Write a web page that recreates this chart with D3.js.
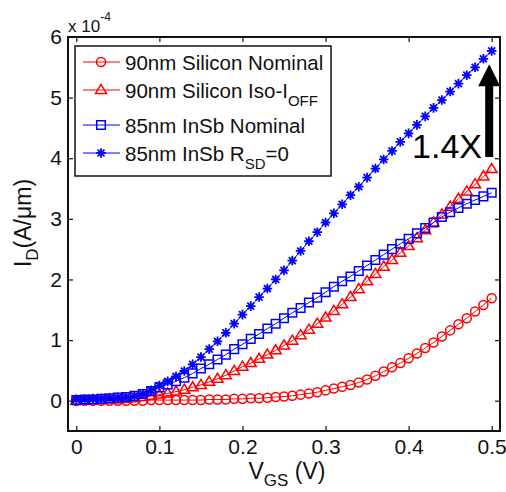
<!DOCTYPE html>
<html>
<head>
<meta charset="utf-8">
<script src="https://cdn.jsdelivr.net/npm/d3@7"></script>
<style>
  html, body { margin: 0; padding: 0; background: #fff; }
  svg { display: block; font-family: Arial, "Liberation Sans", Helvetica, sans-serif; }
</style>
</head>
<body>
<svg id="chart" width="506" height="492"></svg>
<script>
// Gate voltage sweep (V)
const vgs = [0.00,0.01,0.02,0.03,0.04,0.05,0.06,0.07,0.08,0.09,
             0.10,0.11,0.12,0.13,0.14,0.15,0.16,0.17,0.18,0.19,
             0.20,0.21,0.22,0.23,0.24,0.25,0.26,0.27,0.28,0.29,
             0.30,0.31,0.32,0.33,0.34,0.35,0.36,0.37,0.38,0.39,
             0.40,0.41,0.42,0.43,0.44,0.45,0.46,0.47,0.48,0.49,0.50];

// Drain current, in units of 1e-4 A/um
const siNominal = [0.00,0.00,0.00,0.00,0.00,0.00,0.00,0.00,0.00,0.01,
                   0.01,0.01,0.01,0.01,0.01,0.01,0.02,0.02,0.02,0.03,
                   0.03,0.04,0.04,0.05,0.06,0.07,0.08,0.10,0.12,0.14,
                   0.17,0.20,0.23,0.26,0.30,0.35,0.41,0.48,0.55,0.62,
                   0.70,0.78,0.87,0.96,1.06,1.16,1.26,1.36,1.47,1.58,1.69];

const siIsoIoff = [0.00,0.00,0.01,0.01,0.02,0.02,0.03,0.04,0.06,0.08,
                   0.10,0.12,0.15,0.18,0.22,0.26,0.31,0.36,0.42,0.49,
                   0.56,0.62,0.69,0.76,0.83,0.91,0.99,1.08,1.17,1.27,
                   1.37,1.48,1.59,1.71,1.84,1.97,2.09,2.21,2.32,2.44,
                   2.55,2.68,2.81,2.94,3.07,3.20,3.33,3.45,3.57,3.70,3.82];

const insbNominal = [0.01,0.02,0.02,0.03,0.04,0.05,0.06,0.08,0.11,0.16,
                     0.22,0.27,0.32,0.38,0.45,0.53,0.60,0.68,0.76,0.85,
                     0.93,1.02,1.10,1.19,1.27,1.36,1.45,1.53,1.62,1.70,
                     1.79,1.88,1.97,2.05,2.14,2.23,2.32,2.41,2.50,2.59,
                     2.67,2.76,2.85,2.94,3.03,3.11,3.18,3.25,3.31,3.37,3.43];

const insbRsd0 = [0.02,0.02,0.03,0.03,0.04,0.05,0.06,0.08,0.11,0.17,
                  0.25,0.32,0.40,0.49,0.60,0.72,0.85,0.98,1.12,1.27,
                  1.42,1.56,1.71,1.85,2.00,2.15,2.31,2.47,2.63,2.78,
                  2.94,3.09,3.24,3.39,3.53,3.68,3.83,3.98,4.12,4.27,
                  4.41,4.55,4.69,4.83,4.96,5.10,5.23,5.37,5.50,5.64,5.77];

const xTicks = [0, 0.1, 0.2, 0.3, 0.4, 0.5];
const xTickLabels = ["0", "0.1", "0.2", "0.3", "0.4", "0.5"];
const yTicks = [0, 1, 2, 3, 4, 5, 6];
const yTickLabels = ["0", "1", "2", "3", "4", "5", "6"];

// Legend labels, split into normal / subscript runs
const legendLabels = [
  [["90nm Silicon Nominal", false]],
  [["90nm Silicon Iso-I", false], ["OFF", true]],
  [["85nm InSb Nominal", false]],
  [["85nm InSb R", false], ["SD", true], ["=0", false]]
];

const series = [
  { values: siNominal,   color: "#ff0000", marker: "circle" },
  { values: siIsoIoff,   color: "#ff0000", marker: "triangle" },
  { values: insbNominal, color: "#0000ff", marker: "square" },
  { values: insbRsd0,    color: "#0000ff", marker: "star" }
];

const svg = d3.select("#chart");
const plot = { left: 68, top: 37, right: 500, bottom: 431 };

const x = d3.scaleLinear().domain([-0.01, 0.51]).range([plot.left, plot.right]);
const y = d3.scaleLinear().domain([-0.5, 6]).range([plot.bottom, plot.top]);

// Marker shapes
function markerPath(kind) {
  if (kind === "circle") return d3.symbol(d3.symbolCircle, 64)();
  if (kind === "square") return d3.symbol(d3.symbolSquare, 74)();
  if (kind === "triangle") {
    const r = 5.6;
    return `M0,${-r}L${r * 0.98},${r * 0.62}L${-r * 0.98},${r * 0.62}Z`;
  }
  // asterisk: plus overlaid with a cross
  const r = 4.8, d = r * 0.72;
  return `M${-r},0L${r},0M0,${-r}L0,${r}M${-d},${-d}L${d},${d}M${-d},${d}L${d},${-d}`;
}

// Series lines and markers
const line = d3.line().x((d, i) => x(vgs[i])).y(d => y(d));
series.forEach(s => {
  const g = svg.append("g");
  g.append("path")
    .attr("d", line(s.values))
    .attr("fill", "none")
    .attr("stroke", s.color)
    .attr("stroke-width", 1);
  g.selectAll("path.m")
    .data(s.values)
    .join("path")
    .attr("class", "m")
    .attr("transform", (d, i) => `translate(${x(vgs[i])},${y(d)})`)
    .attr("d", markerPath(s.marker))
    .attr("fill", "none")
    .attr("stroke", s.color)
    .attr("stroke-width", s.marker === "star" ? 1.8 : 1.5);
});

// Axes with inward ticks on all four sides
const tickLen = 5;
const axisColor = "#111";
const gx = svg.append("g").attr("transform", `translate(0,${plot.bottom})`)
  .call(d3.axisBottom(x).tickValues(xTicks).tickFormat((d, i) => xTickLabels[i])
    .tickSizeInner(-tickLen).tickSizeOuter(0).tickPadding(8));
const gxTop = svg.append("g").attr("transform", `translate(0,${plot.top})`)
  .call(d3.axisTop(x).tickValues(xTicks).tickFormat("").tickSizeInner(-tickLen).tickSizeOuter(0));
const gy = svg.append("g").attr("transform", `translate(${plot.left},0)`)
  .call(d3.axisLeft(y).tickValues(yTicks).tickFormat((d, i) => yTickLabels[i])
    .tickSizeInner(-tickLen).tickSizeOuter(0).tickPadding(6));
const gyRight = svg.append("g").attr("transform", `translate(${plot.right},0)`)
  .call(d3.axisRight(y).tickValues(yTicks).tickFormat("").tickSizeInner(-tickLen).tickSizeOuter(0));

[gx, gxTop, gy, gyRight].forEach(g => {
  g.select(".domain").remove();
  g.selectAll(".tick line").attr("stroke", axisColor).attr("stroke-width", 1.2);
  g.selectAll(".tick text").attr("fill", "#111").style("font-size", "21px")
    .style("font-family", "Arial, 'Liberation Sans', sans-serif");
});

// Plot frame
svg.append("rect")
  .attr("x", plot.left).attr("y", plot.top)
  .attr("width", plot.right - plot.left).attr("height", plot.bottom - plot.top)
  .attr("fill", "none").attr("stroke", axisColor).attr("stroke-width", 2);

// Exponent label above the y axis
const expo = svg.append("text").attr("x", 68).attr("y", 32)
  .attr("fill", "#111").style("font-size", "17px");
expo.append("tspan").text("x 10");
expo.append("tspan").attr("dy", -11).style("font-size", "12px").text("-4");

// Axis titles
const xt = svg.append("text")
  .attr("x", 287).attr("y", 479)
  .attr("text-anchor", "middle").attr("fill", "#111").style("font-size", "23px");
xt.append("tspan").text("V");
xt.append("tspan").attr("dy", 7).style("font-size", "17px").text("GS");
xt.append("tspan").attr("dy", -7).text(" (V)");

const yt = svg.append("text")
  .attr("transform", "translate(31,223) rotate(-90)")
  .attr("text-anchor", "middle").attr("fill", "#111").style("font-size", "23px");
yt.append("tspan").text("I");
yt.append("tspan").attr("dy", 7).style("font-size", "17px").text("D");
yt.append("tspan").attr("dy", -7).text("(A/\u03bcm)");

// Legend
const lg = svg.append("g");
lg.append("rect").attr("x", 75).attr("y", 46).attr("width", 256).attr("height", 130)
  .attr("fill", "#fff").attr("stroke", axisColor).attr("stroke-width", 1.5);
const rowY = [62, 90, 125, 153];
series.forEach((s, i) => {
  const ry = rowY[i];
  lg.append("line").attr("x1", 83).attr("x2", 120).attr("y1", ry).attr("y2", ry)
    .attr("stroke", s.color).attr("stroke-width", 1.2);
  lg.append("path").attr("transform", `translate(101,${ry})`)
    .attr("d", markerPath(s.marker)).attr("fill", "none")
    .attr("stroke", s.color).attr("stroke-width", s.marker === "star" ? 1.8 : 1.5);
  const t = lg.append("text").attr("x", 125).attr("y", ry + 7.5)
    .attr("fill", "#111").style("font-size", "20.5px");
  let shifted = false;
  legendLabels[i].forEach(([txt, sub]) => {
    const ts = t.append("tspan").text(txt);
    if (sub && !shifted) { ts.attr("dy", 8).style("font-size", "15px"); shifted = true; }
    else if (!sub && shifted) { ts.attr("dy", -8); shifted = false; }
  });
});

// Annotation: improvement arrow and ratio
const ax = x(0.497);
const yBase = y(4.02), yTip = y(5.55);
svg.append("path")
  .attr("d", `M${ax - 4},${yBase}L${ax + 4},${yBase}L${ax + 4},${yTip + 22}L${ax + 11},${yTip + 22}` +
             `L${ax},${yTip}L${ax - 11},${yTip + 22}L${ax - 4},${yTip + 22}Z`)
  .attr("fill", "#000");
svg.append("text").attr("x", 482).attr("y", 158)
  .attr("text-anchor", "end").attr("fill", "#000").style("font-size", "34px").text("1.4X");
</script>
</body>
</html>
